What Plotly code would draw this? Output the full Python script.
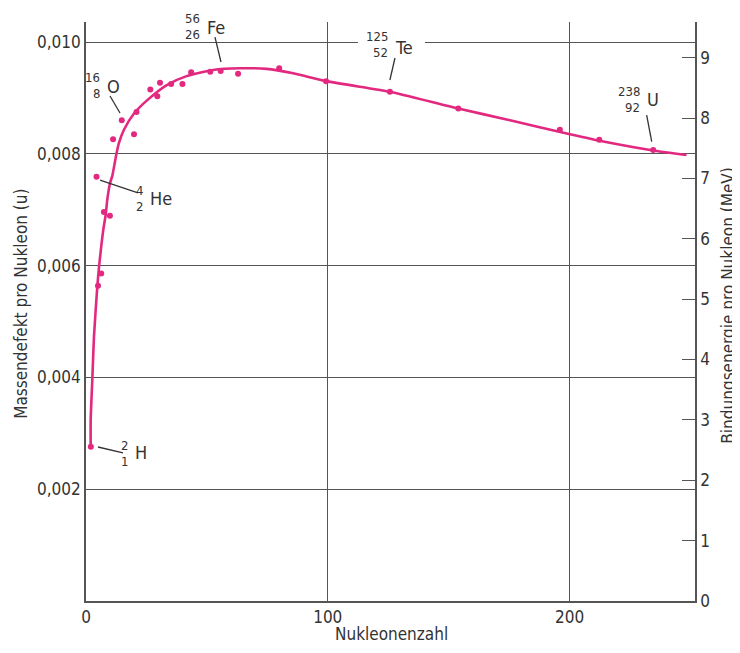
import plotly.graph_objects as go

# ---- data ----
# smooth curve: mass defect per nucleon (u) vs nucleon number
curve_A = [1.94, 1.94, 2.6, 3.3, 4.67, 5.4, 7.15, 8.15, 8.8, 9.9, 10.9, 12.5, 13.6, 15.7,
           19.85, 25.35, 33.4, 41.6, 52.6, 63.7, 74.7, 85.7, 99.3, 117.5, 125.7, 154,
           175.4, 200.2, 214, 234.6, 248.4]
curve_u = [0.00276, 0.00324, 0.00395, 0.00473, 0.00562, 0.00598, 0.00664, 0.00691, 0.00718,
           0.00747, 0.00761, 0.00798, 0.00819, 0.00843, 0.00872, 0.00896, 0.00923, 0.00939,
           0.00950, 0.00953, 0.00952, 0.00944, 0.00930, 0.00917, 0.00911, 0.00881, 0.00860,
           0.00835, 0.00822, 0.00806, 0.00798]

# measured nuclides (dots)
nuclide_A = [2, 4.35, 4.96, 6.3, 7.4, 9.9, 11.2, 14.8, 19.85, 20.9, 26.6, 29.5, 30.6, 35.2,
             39.9, 43.5, 51.4, 55.7, 62.9, 79.9, 99.3, 125.7, 154, 196, 212.3, 234.6]
nuclide_u = [0.00276, 0.00759, 0.00564, 0.00586, 0.00696, 0.00689, 0.00826, 0.00860, 0.00835,
             0.00875, 0.00915, 0.00903, 0.00927, 0.00925, 0.00925, 0.00946, 0.00947, 0.00948,
             0.00943, 0.00953, 0.00930, 0.00911, 0.00881, 0.00843, 0.00825, 0.00807]

# axis ticks
left_ticks = [0.002, 0.004, 0.006, 0.008, 0.010]
right_ticks = [0, 1, 2, 3, 4, 5, 6, 7, 8, 9]
x_ticks = [0, 100, 200]

# nuclide labels: symbol, mass number, atomic number
label_symbol = ["Fe", "Te", "U", "O", "He", "H"]
label_mass = ["56", "125", "238", "16", "4", "2"]
label_atomic = ["26", "52", "92", "8", "2", "1"]

# ---- layout / style (not data) ----
label_pos = [(49.2, 0.010268), (127.0, 0.009893), (231.2, 0.008980),
             (7.86, 0.009213), (25.6, 0.007209), (19.4, 0.002648)]
label_shift = [(9, -7), (11, -5), (8, -8), (9, -7), (8, -8), (7, -9)]
leaders = [((53.35, 0.010089), (55.83, 0.009642)),
           ((127.8, 0.009714), (125.7, 0.009320)),
           ((231.9, 0.008694), (234.0, 0.008217)),
           ((9.93, 0.009034), (14.06, 0.008730)),
           ((5.79, 0.007531), (21.5, 0.007299)),
           ((4.96, 0.002755), (15.3, 0.002648))]

FONT = "DejaVu Sans Condensed, DejaVu Sans, Liberation Sans Narrow, sans-serif"
INK = "#333333"
PINK = "#e2287f"
GRID = "#555555"

X_MAX = 251.9
U_MAX = 0.010358
MEV_MAX = 9.59

fig = go.Figure()
fig.add_trace(go.Scatter(x=curve_A, y=curve_u, mode="lines",
                         line=dict(color=PINK, width=2.6, shape="spline", smoothing=0.6),
                         hoverinfo="skip", showlegend=False))
fig.add_trace(go.Scatter(x=nuclide_A, y=nuclide_u, mode="markers",
                         marker=dict(color=PINK, size=6),
                         showlegend=False))
# carrier for the right-hand (MeV) axis
fig.add_trace(go.Scatter(x=[0], y=[0], yaxis="y2", mode="markers",
                         marker=dict(opacity=0), hoverinfo="skip", showlegend=False))

shapes = []
# break in the 0,010 gridline behind the Te label
shapes.append(dict(type="rect", xref="x", yref="y", x0=112.5, x1=140.2,
                   y0=0.00995, y1=0.01006, fillcolor="white", line=dict(width=0),
                   layer="above"))
for (p0, p1) in leaders:
    shapes.append(dict(type="line", xref="x", yref="y", x0=p0[0], y0=p0[1],
                       x1=p1[0], y1=p1[1], line=dict(color=INK, width=1.3)))

annotations = []
for sym, m, z, (x, y), (s_up, s_dn) in zip(label_symbol, label_mass, label_atomic,
                                            label_pos, label_shift):
    annotations.append(dict(x=x, y=y, xref="x", yref="y", text=sym, showarrow=False,
                            xanchor="left", yanchor="middle",
                            font=dict(family=FONT, size=18, color=INK)))
    annotations.append(dict(x=x, y=y, xref="x", yref="y", text=m, showarrow=False,
                            xanchor="right", yanchor="middle", yshift=s_up, xshift=-3,
                            font=dict(family=FONT, size=13, color=INK)))
    annotations.append(dict(x=x, y=y, xref="x", yref="y", text=z, showarrow=False,
                            xanchor="right", yanchor="middle", yshift=s_dn, xshift=-3,
                            font=dict(family=FONT, size=13, color=INK)))

# axis titles
annotations.append(dict(x=-0.107, y=0.513, xref="paper", yref="paper",
                        text="Massendefekt pro Nukleon (u)", textangle=-90,
                        showarrow=False, xanchor="center", yanchor="middle",
                        font=dict(family=FONT, size=17, color=INK)))
annotations.append(dict(x=1.055, y=0.511, xref="paper", yref="paper",
                        text="Bindungsenergie pro Nukleon (MeV)", textangle=-90,
                        showarrow=False, xanchor="center", yanchor="middle",
                        font=dict(family=FONT, size=17, color=INK)))
annotations.append(dict(x=0.501, y=-0.057, xref="paper", yref="paper",
                        text="Nukleonenzahl", showarrow=False,
                        xanchor="center", yanchor="middle",
                        font=dict(family=FONT, size=17, color=INK)))

# the page body adds an 8 px offset, so the figure is 8 px smaller on each axis
fig.update_layout(
    width=732, height=645,
    margin=dict(l=78, r=45, t=14, b=52, autoexpand=False),
    paper_bgcolor="white", plot_bgcolor="white",
    separators=",.",
    font=dict(family=FONT, size=17, color=INK),
    showlegend=False,
    xaxis=dict(range=[0, X_MAX], tickvals=x_ticks, showgrid=True, gridcolor=GRID,
               gridwidth=1.2, zeroline=False, showline=True, linecolor=GRID, linewidth=1.6,
               ticks="", tickfont=dict(family=FONT, size=17, color=INK), automargin=False),
    yaxis=dict(range=[0, U_MAX], tickvals=left_ticks, tickformat=".3f", showgrid=True,
               gridcolor=GRID, gridwidth=1.2, zeroline=False, showline=True,
               linecolor=GRID, linewidth=1.6, ticks="", automargin=False,
               tickfont=dict(family=FONT, size=17, color=INK)),
    yaxis2=dict(range=[0, MEV_MAX], overlaying="y", side="right", tickvals=right_ticks,
                showgrid=False, zeroline=False, showline=True, linecolor=GRID,
                linewidth=1.6, ticks="inside", ticklen=13, tickcolor=GRID, tickwidth=1.2,
                automargin=False, tickfont=dict(family=FONT, size=17, color=INK)),
    shapes=shapes,
    annotations=annotations,
)

fig.write_html("out.html")
